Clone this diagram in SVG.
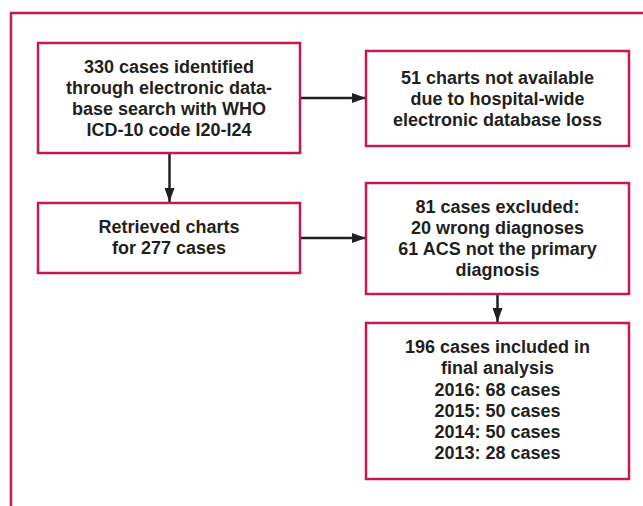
<svg xmlns="http://www.w3.org/2000/svg" width="643" height="506" viewBox="0 0 643 506">
<style>
.box{fill:#fff;stroke:#c8194b;stroke-width:2.5}
.t{font-family:"Liberation Sans",Arial,sans-serif;font-weight:bold;font-size:18px;fill:#231f20;text-anchor:middle}
.c{stroke:#231f20;stroke-width:2.5;fill:none}
</style>
<defs>
<marker id="ah" viewBox="0 0 14 10" refX="14" refY="5" markerWidth="14" markerHeight="10" markerUnits="userSpaceOnUse" orient="auto">
<path d="M0,0 L14,5 L0,10 z" fill="#231f20"/>
</marker>
</defs>
<rect x="0" y="0" width="643" height="506" fill="#fff"/>
<path d="M11,506 L11,13 L650,13" fill="none" stroke="#c8194b" stroke-width="2.5"/>
<g id="connectors">
<line class="c" x1="300" y1="98" x2="366" y2="98" marker-end="url(#ah)"/>
<line class="c" x1="300" y1="238" x2="366" y2="238" marker-end="url(#ah)"/>
<line class="c" x1="169.5" y1="153" x2="169.5" y2="202" marker-end="url(#ah)"/>
<line class="c" x1="497.5" y1="294" x2="497.5" y2="322" marker-end="url(#ah)"/>
</g>
<g id="n1">
<rect class="box" x="38" y="43" width="262" height="110"/>
<text class="t" x="169" y="73">330 cases identified</text>
<text class="t" x="169" y="94">through electronic data-</text>
<text class="t" x="169" y="115">base search with WHO</text>
<text class="t" x="169" y="136">ICD-10 code I20-I24</text>
</g>
<g id="n2">
<rect class="box" x="366" y="51" width="263" height="95"/>
<text class="t" x="497.5" y="84">51 charts not available</text>
<text class="t" x="497.5" y="105">due to hospital-wide</text>
<text class="t" x="497.5" y="126">electronic database loss</text>
</g>
<g id="n3">
<rect class="box" x="38" y="203" width="262" height="70"/>
<text class="t" x="169" y="233">Retrieved charts</text>
<text class="t" x="169" y="254">for 277 cases</text>
</g>
<g id="n4">
<rect class="box" x="366" y="183" width="263" height="111"/>
<text class="t" x="497.5" y="213">81 cases excluded:</text>
<text class="t" x="497.5" y="234">20 wrong diagnoses</text>
<text class="t" x="497.5" y="255">61 ACS not the primary</text>
<text class="t" x="497.5" y="276">diagnosis</text>
</g>
<g id="n5">
<rect class="box" x="366" y="323" width="263" height="156"/>
<text class="t" x="497.5" y="353">196 cases included in</text>
<text class="t" x="497.5" y="374">final analysis</text>
<text class="t" x="497.5" y="396">2016: 68 cases</text>
<text class="t" x="497.5" y="417">2015: 50 cases</text>
<text class="t" x="497.5" y="438">2014: 50 cases</text>
<text class="t" x="497.5" y="459">2013: 28 cases</text>
</g>
</svg>
